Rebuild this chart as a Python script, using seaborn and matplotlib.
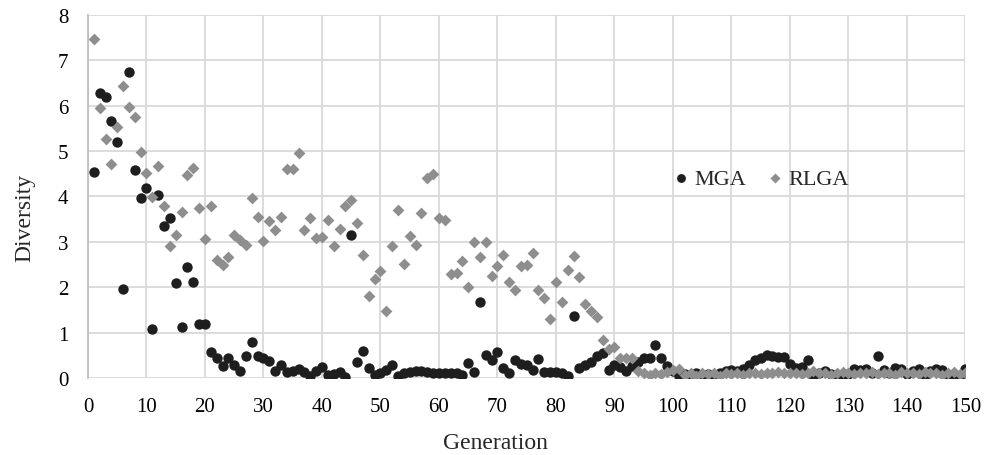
import numpy as np
import pandas as pd
import seaborn as sns
import matplotlib.pyplot as plt

generation = list(range(1, 151))

mga = [
    4.55, 6.28, 6.20, 5.67, 5.20, 1.95, 6.75, 4.59, 3.96, 4.18,
    1.08, 4.03, 3.35, 3.52, 2.10, 1.13, 2.44, 2.12, 1.20, 1.20,
    0.57, 0.43, 0.26, 0.43, 0.29, 0.16, 0.49, 0.80, 0.49, 0.45,
    0.38, 0.16, 0.29, 0.13, 0.16, 0.20, 0.14, 0.05, 0.16, 0.24,
    0.07, 0.09, 0.13, 0.02, 3.15, 0.36, 0.59, 0.23, 0.07, 0.10,
    0.18, 0.28, 0.05, 0.10, 0.14, 0.16, 0.16, 0.14, 0.12, 0.10,
    0.11, 0.12, 0.10, 0.06, 0.33, 0.14, 1.67, 0.50, 0.39, 0.57,
    0.21, 0.11, 0.39, 0.30, 0.28, 0.17, 0.42, 0.13, 0.13, 0.13,
    0.10, 0.05, 1.36, 0.22, 0.28, 0.36, 0.49, 0.55, 0.17, 0.28,
    0.25, 0.16, 0.27, 0.35, 0.45, 0.45, 0.72, 0.44, 0.27, 0.15,
    0.05, 0.08, 0.03, 0.10, 0.06, 0.08, 0.04, 0.10, 0.15, 0.17,
    0.16, 0.20, 0.28, 0.40, 0.45, 0.50, 0.48, 0.46, 0.47, 0.30,
    0.22, 0.25, 0.39, 0.05, 0.12, 0.15, 0.08, 0.03, 0.02, 0.08,
    0.20, 0.18, 0.20, 0.12, 0.48, 0.18, 0.10, 0.22, 0.20, 0.08,
    0.15, 0.20, 0.05, 0.15, 0.20, 0.18, 0.02, 0.05, 0.03, 0.20,
]

rlga = [
    7.47, 5.95, 5.26, 4.71, 5.54, 6.44, 5.98, 5.76, 4.99, 4.52,
    3.98, 4.67, 3.78, 2.90, 3.16, 3.65, 4.48, 4.63, 3.74, 3.06,
    3.78, 2.60, 2.50, 2.66, 3.15, 3.05, 2.92, 3.96, 3.54, 3.02,
    3.46, 3.27, 3.55, 4.60, 4.60, 4.95, 3.26, 3.52, 3.08, 3.10,
    3.49, 2.91, 3.28, 3.80, 3.92, 3.41, 2.71, 1.80, 2.18, 2.36,
    1.48, 2.90, 3.70, 2.51, 3.13, 2.93, 3.63, 4.40, 4.49, 3.52,
    3.49, 2.29, 2.31, 2.58, 2.00, 3.00, 2.67, 2.99, 2.25, 2.46,
    2.71, 2.11, 1.94, 2.46, 2.50, 2.75, 1.94, 1.76, 1.30, 2.12,
    1.68, 2.39, 2.68, 2.22, 1.62, 1.48, 1.34, 0.83, 0.64, 0.68,
    0.45, 0.44, 0.43, 0.15, 0.10, 0.06, 0.12, 0.08, 0.14, 0.18,
    0.20, 0.06, 0.10, 0.05, 0.12, 0.08, 0.10, 0.05, 0.12, 0.08,
    0.10, 0.06, 0.10, 0.12, 0.08, 0.12, 0.10, 0.14, 0.10, 0.12,
    0.10, 0.08, 0.12, 0.16, 0.10, 0.12, 0.06, 0.10, 0.14, 0.10,
    0.08, 0.12, 0.10, 0.14, 0.08, 0.12, 0.10, 0.06, 0.14, 0.10,
    0.12, 0.08, 0.14, 0.10, 0.12, 0.06, 0.10, 0.14, 0.08, 0.10,
]

sns.set_style("white")
plt.rcParams['font.family'] = ['Liberation Serif', 'DejaVu Serif']

fig = plt.figure(figsize=(9.85, 4.56), dpi=100)
ax = fig.add_axes([0.0893, 0.1689, 0.8909, 0.7961])

sns.scatterplot(x=generation, y=mga, ax=ax, color='#1e1e1e', marker='o',
                s=56, linewidth=0, label='MGA', zorder=3)
sns.scatterplot(x=generation, y=rlga, ax=ax, color='#8e8e8e', marker='D',
                s=36, linewidth=0, label='RLGA', zorder=4)

ax.set_xlim(0, 150)
ax.set_ylim(0, 8)
ax.set_xticks(np.arange(0, 151, 10))
ax.set_yticks(np.arange(0, 9, 1))
ax.grid(True, color='#d9d9d9', linewidth=1.3)
ax.set_axisbelow(True)
for side in ['top', 'right', 'bottom']:
    ax.spines[side].set_visible(False)
ax.spines['left'].set_color('#bfbfbf')
ax.spines['left'].set_linewidth(1.3)
ax.tick_params(length=0, pad=14, labelsize=15, colors='black')

ax.set_xlabel('Generation', fontsize=17)
ax.set_ylabel('Diversity', fontsize=17)
ax.xaxis.set_label_coords(0.464, -0.149)
ax.yaxis.set_label_coords(-0.060, 0.443)

ax.legend(loc='center', bbox_to_anchor=(0.766, 0.548), ncol=2, frameon=False,
          fontsize=16, handlelength=0.8, handletextpad=0.2, columnspacing=0.9,
          markerscale=0.85)

plt.savefig('out.png', dpi=100)
